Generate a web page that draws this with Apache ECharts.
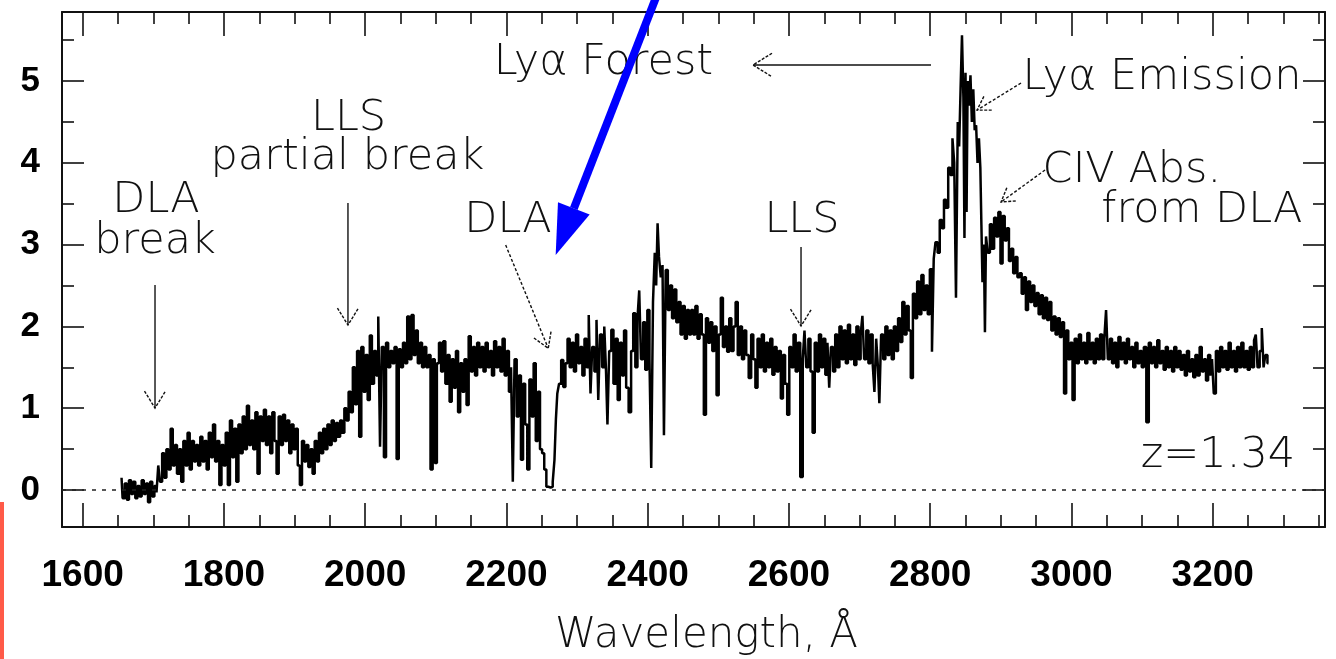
<!DOCTYPE html>
<html><head><meta charset="utf-8">
<script src="https://cdn.jsdelivr.net/npm/echarts@6/dist/echarts.min.js"></script>
<style>html,body{margin:0;padding:0;background:#fff}#c{width:1336px;height:659px}</style>
</head><body><div id="c"></div>
<script>
// ---- axis ticks / labels ----
const xMajorTicks = [1600,1800,2000,2200,2400,2600,2800,3000,3200];
const xMinorTicks = [1650,1700,1750,1850,1900,1950,2050,2100,2150,2250,2300,2350,2450,2500,2550,2650,2700,2750,2850,2900,2950,3050,3100,3150,3250,3300,3350];
const yMajorTicks = [0,1,2,3,4,5];
const yMinorTicks = [0.5,1.5,2.5,3.5,4.5,5.5];

// ---- spectrum [wavelength (A), flux] ----
const fluxBelowBreak = [[1655,0.15],[1658,-0.1],[1661,0.08],[1664,-0.12],[1667,0.12],[1670,-0.05],[1673,0.1],[1676,-0.1],[1679,0.05],[1682,-0.08],[1685,0.12],[1688,-0.05],[1691,0.08],[1694,-0.15],[1697,0.1],[1700,-0.08],[1703,0.05],[1706,-0.03]];
const fluxBlueContinuum = [[1708,0.3],[1711,0.1],[1714,0.45],[1717,0.15],[1720,0.5],[1723,0.25],[1726,0.75],[1729,0.3],[1732,0.55],[1735,0.2],[1738,0.5],[1741,0.1],[1744,0.6],[1747,0.3],[1750,0.7],[1753,0.25],[1756,0.6],[1759,0.35],[1762,0.55],[1765,0.3],[1768,0.65],[1771,0.35],[1774,0.6],[1777,0.25],[1780,0.7],[1783,0.4],[1786,0.8],[1789,0.35],[1792,0.6],[1795,0.06],[1798,0.55],[1801,0.3],[1804,0.7],[1807,0.06],[1810,0.85],[1813,0.4],[1816,0.75],[1819,0.1],[1822,0.8],[1825,0.45],[1828,0.9],[1831,0.5],[1834,1.03],[1837,0.55],[1840,0.85],
[1843,0.5],[1846,0.95],[1849,0.2],[1852,0.9],[1855,0.6],[1858,0.98],[1861,0.55],[1864,0.9],[1867,0.45],[1870,0.95],[1873,0.6],[1876,0.2],[1879,0.9],[1882,0.55],[1885,0.92],[1888,0.6],[1891,0.85],[1894,0.45],[1897,0.8],[1900,0.5],[1903,0.75],[1906,0.3],[1909,0.06],[1912,0.6],[1915,0.35],[1918,0.55],[1921,0.28],[1924,0.5],[1927,0.2],[1930,0.6],[1933,0.35],[1936,0.7],[1939,0.45],[1942,0.75],[1945,0.5],[1948,0.8],[1951,0.55],[1954,0.85],[1957,0.6],[1960,0.82],[1963,0.65],[1966,0.85],[1969,0.7]];
const fluxLlsToDla = [[1972,1.0],[1975,0.85],[1978,1.2],[1981,0.95],[1984,1.5],[1987,1.05],[1990,1.7],[1993,0.65],[1996,1.75],[1999,1.2],[2002,1.65],[2005,1.1],[2008,1.89],[2011,1.3],[2014,1.7],[2017,1.4],[2020,2.12],[2022,0.53],[2025,1.75],[2028,0.4],[2031,1.8],[2034,1.5],[2037,1.7],[2040,1.55],[2043,1.75],[2046,0.38],[2049,1.72],[2052,1.5],[2055,1.8],[2058,1.55],[2061,2.12],[2064,1.6],[2067,2.14],[2070,1.65],[2073,1.95],[2076,1.55],[2079,1.8],[2082,1.5],[2085,1.75],[2088,1.5],[2091,1.65],[2094,0.25],[2097,1.6],[2100,0.33],[2103,1.55],
[2106,1.8],[2109,1.45],[2112,1.82],[2115,1.3],[2118,1.65],[2121,1.08],[2124,1.6],[2127,1.25],[2130,1.7],[2133,0.95],[2136,1.55],[2139,1.2],[2142,1.6],[2145,1.04],[2148,1.88],[2151,1.45],[2154,1.75],[2157,1.4],[2160,1.8],[2163,1.5],[2166,1.75],[2169,1.45],[2172,1.8],[2175,1.5],[2178,1.7],[2181,1.4],[2184,1.82],[2187,1.5],[2190,1.75],[2193,1.45],[2196,1.85],[2199,1.4],[2202,1.7],[2205,1.2],[2208,1.5],[2210,0.1],[2213,1.6],[2216,0.9],[2219,1.4],[2222,0.37],[2225,1.3],[2228,0.8],[2231,0.25],[2234,1.35],[2237,0.9],[2240,1.55],[2243,0.6],[2246,1.2],[2249,0.5],[2252,0.45],[2255,0.25],[2258,0.04],[2261,0.03],[2264,0.04],[2267,0.1],[2269,0.37],[2271,0.86],[2273,1.18],[2276,1.3],[2279,1.59],[2282,1.26],[2285,1.55]];
const fluxForest = [[2288,1.85],[2291,1.5],[2294,1.8],[2297,1.45],[2300,1.9],[2303,1.55],[2306,1.75],[2309,1.4],[2312,1.85],[2315,1.5],[2318,2.14],[2320,1.18],[2323,1.75],[2326,1.45],[2329,2.08],[2331,1.1],[2334,1.9],[2337,1.5],[2340,2.0],[2342,1.45],[2344,0.8],[2347,1.7],[2350,1.96],[2353,1.3],[2356,1.85],[2359,1.1],[2362,1.8],[2365,1.4],[2368,1.95],[2371,1.25],[2375,0.95],[2378,1.7],[2381,2.16],[2384,1.5],[2387,2.1],[2389,2.44],[2392,1.6],[2395,2.05],[2398,1.47],[2401,2.2],[2404,1.6],[2406,0.27],[2409,2.3],[2411,2.9],[2413,2.5],[2415,3.26],[2417,2.85],[2420,2.6],[2422,2.75],[2424,0.67],[2427,2.69],[2430,2.2],[2433,2.5],[2436,2.1],[2439,2.45],[2442,2.05],[2445,2.3],[2448,1.9],[2451,2.25],[2454,1.85],[2457,2.2],[2460,1.9],
[2463,2.2],[2466,1.9],[2469,2.25],[2472,1.85],[2475,2.15],[2478,1.9],[2481,0.92],[2484,2.1],[2487,1.8],[2490,2.05],[2493,1.7],[2496,2.0],[2499,1.16],[2502,1.9],[2505,2.35],[2508,1.75],[2511,2.0],[2514,1.69],[2517,2.1],[2520,1.7],[2523,2.0],[2526,2.3],[2529,1.65],[2532,2.0],[2535,1.6],[2538,1.95],[2541,1.65],[2545,1.37],[2548,1.9],[2551,1.6],[2554,1.25],[2557,1.85],[2560,1.5],[2563,1.9],[2566,1.45],[2569,1.8],[2572,1.5],[2575,1.85],[2578,1.41],[2581,1.75],[2584,1.45],[2587,1.7],[2590,1.12],[2593,1.65],[2596,1.3],[2599,0.92],[2602,1.75],[2605,1.5],[2608,1.9],[2611,1.45],[2614,1.8],[2618,0.16],[2621,1.6],[2623,1.95],[2626,1.5],[2629,1.85],[2632,1.45],[2635,0.7],[2638,1.8],[2641,1.45],[2644,1.9],[2647,1.5],[2650,1.85],[2653,1.41],[2656,1.8],[2658,1.25],[2661,1.75],[2664,1.45],[2667,1.9],[2670,1.5],[2673,2.0],[2676,1.6],[2679,1.95],[2682,1.55],[2685,2.02],[2688,1.6],[2691,1.9],[2694,1.53],[2697,2.0],[2700,1.6],[2703,1.9],[2705,2.13],[2708,1.6],[2711,1.95],[2714,1.55],[2717,1.9],[2720,1.55],[2722,1.2],[2725,1.85],[2727,1.5],[2729,1.06],[2732,1.9],[2735,1.6],[2738,2.0],[2741,1.65],[2744,1.95],[2747,1.6],[2750,2.0],[2753,1.7]];
const fluxLyaPeak = [[2756,2.1],[2759,1.81],[2762,2.3],[2765,1.9],[2768,2.25],[2771,1.95],[2774,1.37],[2777,2.4],[2780,2.1],[2783,2.55],[2786,2.15],[2789,2.63],[2792,2.2],[2795,2.5],[2798,2.15],[2801,2.7],[2804,1.69],[2806,2.83],[2809,3.03],[2812,2.9],[2815,3.3],[2818,3.2],[2821,3.55],[2824,3.45],[2827,3.94],[2830,3.85],[2833,4.3],[2835,4.0],[2838,2.35],[2840,4.5],[2842,4.2],[2844,4.9],[2846,5.56],[2848,4.8],[2849,3.08],[2851,5.1],[2852,3.4],[2854,5.0],[2856,4.7],[2858,5.07],[2860,4.5],[2862,4.9],[2864,4.4],[2866,4.46],[2868,4.0],[2870,4.3],[2872,3.94],[2873,3.24],[2875,2.54],[2877,3.0],[2878,1.93],[2880,3.1],[2883,2.9],[2886,3.25],[2889,2.95],[2892,3.33],[2895,3.1]];
const fluxRedSide = [[2898,3.4],[2901,2.77],[2904,3.35],[2907,3.05],[2910,3.2],[2913,2.8],[2916,2.95],[2919,2.65],[2922,2.85],[2925,2.6],[2928,2.65],[2931,2.4],[2934,2.6],[2937,2.2],[2940,2.55],[2943,2.3],[2946,2.5],[2949,2.25],[2952,2.41],[2955,2.15],[2958,2.38],[2961,2.1],[2964,2.35],[2967,2.08],[2970,2.3],[2973,1.95],[2976,2.12],[2979,1.9],[2982,2.1],[2985,1.87],[2988,2.05],[2991,1.18],[2994,1.95],[2997,1.6],[3000,1.8],[3003,1.1],[3006,1.85],[3009,1.55],[3012,1.9],[3015,1.6],[3018,1.8],[3021,1.55],[3024,1.92],[3027,1.6],[3030,1.8],[3033,1.55],[3036,1.85],[3039,1.6],[3042,1.9],[3045,1.6],[3048,1.85],[3050,2.2],[3053,1.6],[3056,1.85],[3059,1.55],[3062,1.8],[3065,1.5],[3068,1.87],[3071,1.6],[3074,1.8],[3077,1.55],[3080,1.85],[3083,1.6],[3086,1.75],[3089,1.5],[3092,1.8],[3095,1.55],[3098,1.7],[3101,1.5],[3104,1.75],[3108,0.83],[3111,1.8],[3114,1.55],[3117,1.75],[3120,1.5],[3123,1.83],[3126,1.55],[3129,1.7],[3132,1.47],[3135,1.75],[3138,1.5],[3141,1.7],[3144,1.45],[3147,1.75],[3150,1.5],[3153,1.7],[3156,1.47],[3159,1.65],[3162,1.4],[3165,1.7],[3168,1.45],[3171,1.6],[3174,1.38],[3177,1.65],[3180,1.4],[3183,1.75],[3186,1.45],[3189,1.6],[3192,1.34],[3195,1.65],[3198,1.4],[3200,1.6],[3203,1.18],[3206,1.7],[3209,1.45],[3212,1.75],[3215,1.5],[3218,1.7],[3221,1.47],[3224,1.8],[3227,1.5],[3230,1.7],[3233,1.45],[3236,1.75],[3239,1.5],[3242,1.8],[3245,1.5],[3248,1.7],[3251,1.47],[3254,1.75],[3257,1.5],[3260,1.83],[3262,1.9],[3265,1.5],[3268,1.7],[3271,1.98],[3273,1.5],[3276,1.65],[3279,1.55]];

// ---- annotations (data coordinates) ----
const labelTexts = [
  {text:'DLA', at:[1703.8,3.533]},
  {text:'break', at:[1702.4,3.03]},
  {text:'LLS', at:[1976.4,4.535]},
  {text:'partial break', at:[1974.9,4.059]},
  {text:'DLA', at:[2202.2,3.289]},
  {text:'LLS', at:[2618.5,3.289]},
  {text:'Ly\u03b1 Forest', at:[2337.4,5.226]},
  {text:'Ly\u03b1 Emission', at:[3128.2,5.037]},
  {text:'CIV Abs.', at:[3085.6,3.90]},
  {text:'from DLA', at:[3184.7,3.411]},
  {text:'z=1.34', at:[3207.4,0.416]}
];
const arrowLines = [
  {from:[1702.4,2.506], to:[1702.4,1.002], head:17, dash:false},
  {from:[1975.6,3.509], to:[1975.6,2.017], head:17, dash:false},
  {from:[2198.9,2.995], to:[2259.2,1.732], head:15, dash:true},
  {from:[2617.1,2.971], to:[2617.1,2.005], head:17, dash:false},
  {from:[2801.1,5.196], to:[2549.1,5.196], head:19, dash:false},
  {from:[2928.6,4.976], to:[2866.3,4.645], head:13, dash:true},
  {from:[2962.6,3.912], to:[2900.3,3.521], head:13, dash:true}
];
const blueArrow = {from:[2413,6.05], to:[2269.7,2.873]};

const spectrum = [].concat(fluxBelowBreak, fluxBlueContinuum, fluxLlsToDla, fluxForest, fluxLyaPeak, fluxRedSide);

const X_MIN = 1570.7, X_MAX = 3359, Y_MIN = -0.452, Y_MAX = 5.844;
const INK = '#111';
const thinFont = {fontFamily:'DejaVu Sans', fontWeight:200};
const plainNumber = function(v){ return String(v); };

function xAxisDef(pos, ticks, len, labels, line){
  return {type:'value', position:pos, min:X_MIN, max:X_MAX, gridIndex:0,
    axisLine:{show:line, onZero:false, lineStyle:{color:INK, width:2}},
    axisTick:{show:true, inside:true, length:len, customValues:ticks, lineStyle:{color:INK, width:1.6}},
    axisLabel:labels ? {show:true, customValues:ticks, formatter:plainNumber, margin:30, fontFamily:'Liberation Sans', fontWeight:'bold', fontSize:37, color:'#000'} : {show:false},
    splitLine:{show:false}};
}
function yAxisDef(pos, ticks, len, labels, line){
  return {type:'value', position:pos, min:Y_MIN, max:Y_MAX, gridIndex:0,
    axisLine:{show:line, onZero:false, lineStyle:{color:INK, width:2}},
    axisTick:{show:true, inside:true, length:len, customValues:ticks, lineStyle:{color:INK, width:1.6}},
    axisLabel:labels ? {show:true, customValues:ticks, formatter:plainNumber, margin:22, fontFamily:'Liberation Sans', fontWeight:'bold', fontSize:35, color:'#000'} : {show:false},
    splitLine:{show:false}};
}

const chart = echarts.init(document.getElementById('c'), null, {renderer:'canvas'});
const xBottom = xAxisDef('bottom', xMajorTicks, 24, true, true);
xBottom.name = 'Wavelength, \u00c5';
xBottom.nameLocation = 'middle';
xBottom.nameGap = 88;
xBottom.nameTextStyle = Object.assign({fontSize:42, color:INK, padding:[0,0,0,26]}, thinFont);

chart.setOption({
  animation:false,
  backgroundColor:'#fff',
  grid:{left:62, top:12, right:11, bottom:132, containLabel:false, outerBoundsMode:'none'},
  xAxis:[xBottom, xAxisDef('bottom', xMinorTicks, 12, false, false), xAxisDef('top', xMajorTicks, 24, false, true), xAxisDef('top', xMinorTicks, 12, false, false)],
  yAxis:[yAxisDef('left', yMajorTicks, 22, true, true), yAxisDef('left', yMinorTicks, 12, false, false), yAxisDef('right', yMajorTicks, 22, false, true), yAxisDef('right', yMinorTicks, 12, false, false)],
  series:[{
    type:'line', xAxisIndex:0, yAxisIndex:0, data:spectrum, symbol:'none', showSymbol:false,
    step:'middle', sampling:false, lineStyle:{color:'#000', width:2.5}, clip:true,
    markLine:{silent:true, symbol:['none','none'], label:{show:false}, animation:false,
      lineStyle:{color:'#222', type:[4,6], width:1.5}, data:[{yAxis:0}]}
  }]
});

function toPx(p){ return chart.convertToPixel({xAxisIndex:0, yAxisIndex:0}, p); }
function headPts(tip, from, len, half){
  const dx = tip[0]-from[0], dy = tip[1]-from[1], L = Math.hypot(dx,dy);
  const ux = dx/L, uy = dy/L, bx = tip[0]-ux*len, by = tip[1]-uy*len, nx = -uy, ny = ux;
  return [[bx+nx*half, by+ny*half], tip, [bx-nx*half, by-ny*half]];
}
const g = [];
labelTexts.forEach(function(t){
  const p = toPx(t.at);
  g.push({type:'text', x:p[0], y:p[1], z:10, style:{text:t.text, fontSize:43, fontFamily:thinFont.fontFamily, fontWeight:thinFont.fontWeight, fill:INK, align:'center', verticalAlign:'middle'}});
});
arrowLines.forEach(function(a){
  const f = toPx(a.from), t = toPx(a.to);
  g.push({type:'line', z:10, shape:{x1:f[0], y1:f[1], x2:t[0], y2:t[1]}, style:{stroke:INK, lineWidth:1.4, lineDash:a.dash ? [3,2] : null}});
  g.push({type:'polyline', z:10, shape:{points:headPts(t, f, a.head, a.head*0.62)}, style:{stroke:INK, lineWidth:1.4, fill:null, lineDash:[3,1.5]}});
});
(function(){
  const f = toPx(blueArrow.from), t = toPx(blueArrow.to);
  const pts = headPts(t, f, 50, 17);
  const base = [(pts[0][0]+pts[2][0])/2, (pts[0][1]+pts[2][1])/2];
  g.push({type:'line', z:20, shape:{x1:f[0], y1:f[1], x2:base[0], y2:base[1]}, style:{stroke:'#0000ff', lineWidth:8}});
  g.push({type:'polygon', z:20, shape:{points:pts}, style:{fill:'#0000ff'}});
})();
g.push({type:'rect', z:5, shape:{x:0, y:502, width:4, height:157}, style:{fill:'#ff5a48'}});
chart.setOption({graphic:g});
</script></body></html>
